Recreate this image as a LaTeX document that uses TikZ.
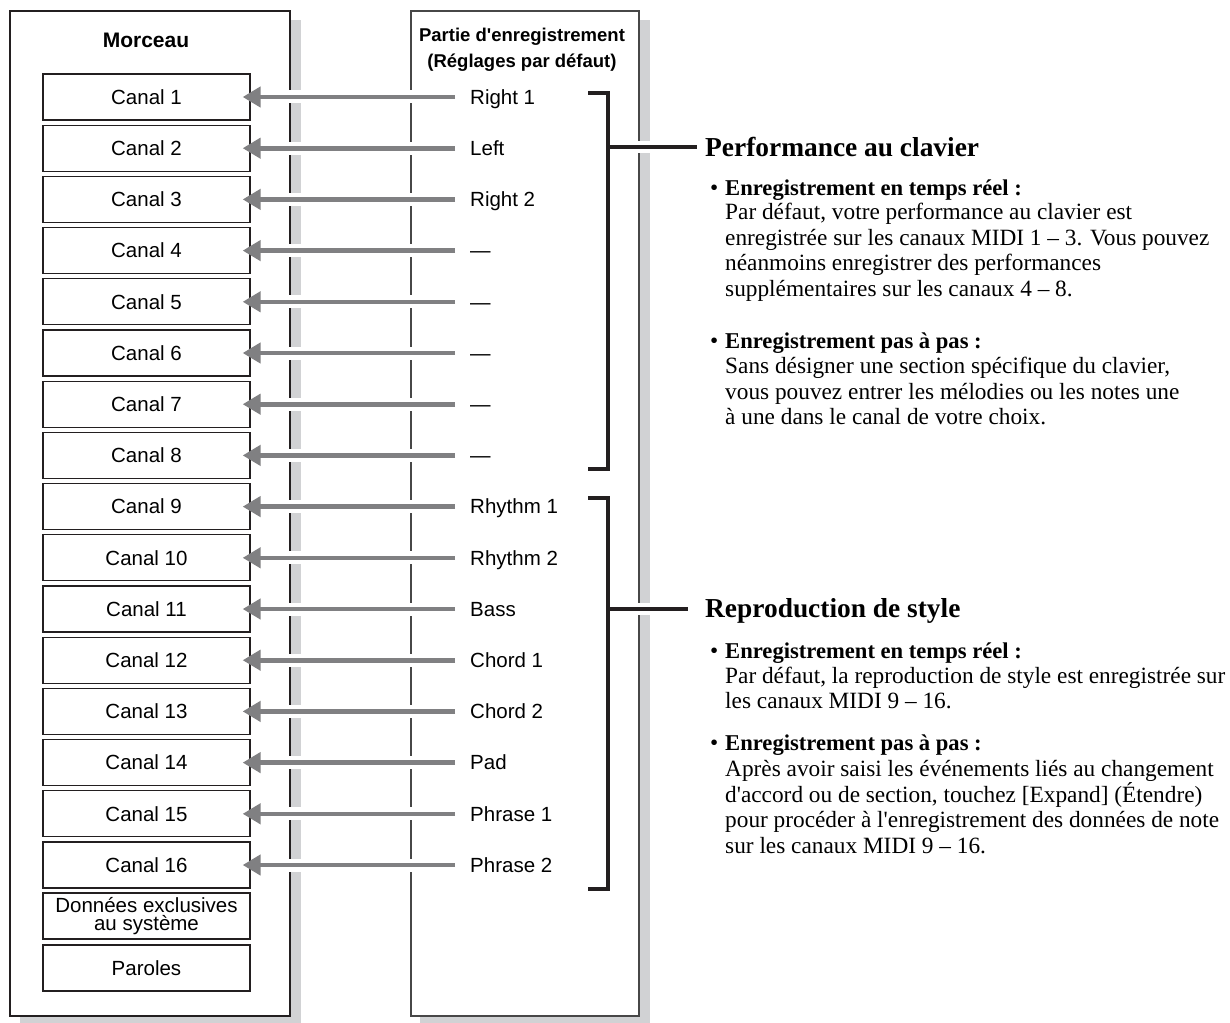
\documentclass[tikz,border=0pt]{standalone}
\usepackage{fontspec}
\setmainfont{Liberation Serif}[Ligatures=TeXOff]
\setsansfont{Liberation Sans}[Ligatures=TeXOff]
\usetikzlibrary{arrows.meta}
\definecolor{shadowgray}{HTML}{D1D2D4}
\definecolor{arrowgray}{HTML}{808082}
\definecolor{ink}{HTML}{231F20}
\newcommand{\sanslbl}{\sffamily\fontsize{20.5}{22}\selectfont}
\newcommand{\bodyfont}{\rmfamily\fontsize{23.3}{25.5}\selectfont}
\newcommand{\headfont}{\rmfamily\bfseries\fontsize{22.6}{25.5}\selectfont}
\begin{document}
\begin{tikzpicture}[x=1pt,y=-1pt,
  canalbox/.style={draw=ink,line width=1.3pt,fill=white,minimum width=207pt,minimum height=46pt,inner sep=0pt,font=\sanslbl},
  capfix/.style={text height=14.7pt,text depth=0pt},
  lbl/.style={anchor=west,inner sep=0pt,font=\sanslbl,capfix},
  arr/.style={draw=arrowgray,line width=4.6pt,-{Triangle[length=18pt,width=20pt]}},
  halo/.style={draw=white,line width=13pt},
  bracket/.style={draw=ink,line width=3.6pt,line join=miter},
  body/.style={anchor=base west,inner sep=0pt,font=\bodyfont},
  itemhead/.style={anchor=base west,inner sep=0pt,font=\headfont},
  bul/.style={anchor=base west,inner sep=0pt,font=\bodyfont},
  sechead/.style={anchor=base west,inner sep=0pt,font=\rmfamily\bfseries\fontsize{27.4}{30}\selectfont}]
\useasboundingbox (0,0) rectangle (1230,1022);
% shadows
\fill[shadowgray] (20,20) rectangle (301,1023);
\fill[shadowgray] (420,20) rectangle (650,1023);
% panels
\draw[fill=white,draw=ink,line width=2.5pt] (10,11) rectangle (290,1016);
\draw[fill=white,draw=black!72,line width=1.5pt] (411,11) rectangle (639,1016);
% titles
\node[font=\sffamily\bfseries\fontsize{21}{24}\selectfont,inner sep=0pt,capfix] (tmorceau) at (146,40) {Morceau};
\node[font=\sffamily\bfseries\fontsize{18.5}{26}\selectfont,align=center,inner sep=0pt] (tpartie) at (522,50) {Partie d'enregistrement\\(Réglages par défaut)};
% rows
\foreach \i/\t in {1/Right 1,2/Left,3/Right 2,4/—,5/—,6/—,7/—,8/—,9/Rhythm 1,10/Rhythm 2,11/Bass,12/Chord 1,13/Chord 2,14/Pad,15/Phrase 1,16/Phrase 2}{
  \pgfmathsetmacro{\yy}{97+(\i-1)*51.2}
  \node[canalbox,capfix] (c\i) at (146.5,\yy) {Canal \i};
  \node[lbl] (l\i) at (470,\yy) {\t};
  \draw[halo] ([xshift=15pt]c\i.east) -- ([xshift=-50pt]l\i.west);
  \draw[arr] ([xshift=-15pt]l\i.west) -- ([xshift=-8pt]c\i.east);
}
\node[canalbox,align=center,font=\sffamily\fontsize{20.5}{18.5}\selectfont] (sys) at (146.5,916) {Données exclusives\\au système};
\node[canalbox,capfix] (paroles) at (146.5,968) {Paroles};
% brackets
\coordinate (b1t) at (588,93);
\coordinate (b1b) at (588,469);
\coordinate (b1m) at (608,147);
\coordinate (b2t) at (588,498);
\coordinate (b2b) at (588,889);
\coordinate (b2m) at (608,609);
\draw[halo,line width=12pt] (628,147) -- (662,147);
\draw[halo,line width=12pt] (628,609) -- (662,609);
\draw[bracket] (b1t) -- ++(20,0) |- (b1b);
\draw[bracket] (b2t) -- ++(20,0) |- (b2b);
% right text
\node[sechead] (h1) at (705,156) {Performance au clavier};
\node[sechead] (h2) at (705,617) {Reproduction de style};
\draw[bracket] (b1m) -- ([xshift=-8pt]h1.west |- b1m);
\draw[bracket] (b2m) -- ([xshift=-17pt]h2.west |- b2m);
% item A
\node[bul] (ba) at (710,195) {•};
\node[itemhead] (ia) at (725,195) {Enregistrement en temps réel :};
\node[body] at (725,219) {Par défaut, votre performance au clavier est};
\node[body] at (725,245) {enregistrée sur les canaux MIDI 1 – 3. Vous pouvez};
\node[body] at (725,270) {néanmoins enregistrer des performances};
\node[body] at (725,296) {supplémentaires sur les canaux 4 – 8.};
% item B
\node[bul] (bb) at (710,348) {•};
\node[itemhead] (ib) at (725,348) {Enregistrement pas à pas :};
\node[body] at (725,373) {Sans désigner une section spécifique du clavier,};
\node[body] at (725,399) {vous pouvez entrer les mélodies ou les notes une};
\node[body] at (725,424) {à une dans le canal de votre choix.};
% item C
\node[bul] (bc) at (710,658) {•};
\node[itemhead] (ic) at (725,658) {Enregistrement en temps réel :};
\node[body] at (725,683) {Par défaut, la reproduction de style est enregistrée sur};
\node[body] at (725,708) {les canaux MIDI 9 – 16.};
% item D
\node[bul] (bd) at (710,750) {•};
\node[itemhead] (id) at (725,750) {Enregistrement pas à pas :};
\node[body] at (725,776) {Après avoir saisi les événements liés au changement};
\node[body] at (725,802) {d'accord ou de section, touchez [Expand] (Étendre)};
\node[body] at (725,827) {pour procéder à l'enregistrement des données de note};
\node[body] at (725,853) {sur les canaux MIDI 9 – 16.};
\end{tikzpicture}
\end{document}
